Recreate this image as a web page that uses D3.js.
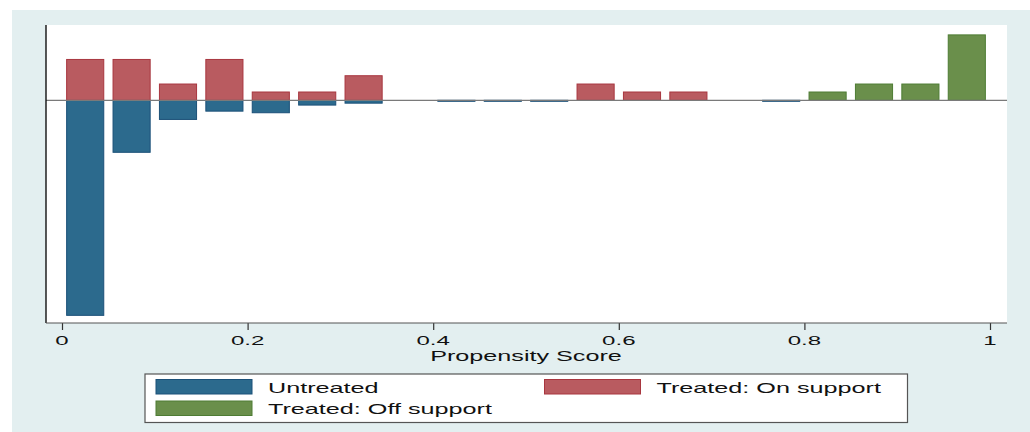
<!DOCTYPE html>
<html>
<head>
<meta charset="utf-8">
<script src="https://cdn.jsdelivr.net/npm/d3@7"></script>
<style>
  html, body { margin: 0; padding: 0; background: #ffffff; }
  svg { display: block; }
  text { font-family: "Liberation Sans", Arial, Helvetica, sans-serif; fill: #111; }
</style>
</head>
<body>
<svg id="chart" width="1030" height="432"></svg>
<script>
// Propensity score bins (bin midpoints, width 0.05)
const binMid = [0.025, 0.075, 0.125, 0.175, 0.225, 0.275, 0.325, 0.375, 0.425, 0.475,
                0.525, 0.575, 0.625, 0.675, 0.725, 0.775, 0.825, 0.875, 0.925, 0.975];

// Share of each group per bin (untreated drawn below zero)
const untreated  = [0.674, 0.163, 0.060, 0.034, 0.039, 0.015, 0.009, 0, 0.003, 0.003,
                    0.003, 0, 0, 0, 0, 0.003, 0, 0, 0, 0];
const treatedOn  = [0.128, 0.128, 0.051, 0.128, 0.026, 0.026, 0.077, 0, 0, 0,
                    0, 0.051, 0.026, 0.026, 0, 0, 0, 0, 0, 0];
const treatedOff = [0, 0, 0, 0, 0, 0, 0, 0, 0, 0,
                    0, 0, 0, 0, 0, 0, 0.026, 0.051, 0.051, 0.205];

const xTicks = [0, 0.2, 0.4, 0.6, 0.8, 1];
const xTickLabels = ["0", ".2", ".4", ".6", ".8", "1"].map(s => s === "0" || s === "1" ? s : "0" + s);
const seriesNames = ["Untreated", "Treated: On support", "Treated: Off support"];
const xTitle = "Propensity Score";

const colors = {
  untreated:  { fill: "#2c6a8d", stroke: "#1b5078" },
  on:         { fill: "#b95b60", stroke: "#a8363f" },
  off:        { fill: "#6a8f4b", stroke: "#4e7c34" }
};

const svg = d3.select("#chart");
const W = 1030, H = 432;
const plot = { left: 46, right: 1007, top: 25, bottom: 323 };

// Outer graph region
svg.append("rect").attr("x", 12).attr("y", 10).attr("width", W - 12).attr("height", H - 10)
  .attr("fill", "#e3eff0");
// Plot region
svg.append("rect").attr("x", plot.left).attr("y", plot.top)
  .attr("width", plot.right - plot.left).attr("height", plot.bottom - plot.top)
  .attr("fill", "#ffffff");

const x = d3.scaleLinear().domain([0, 1]).range([62, 990]);
const y = d3.scaleLinear().domain([-0.698, 0.236]).range([plot.bottom, plot.top]);
const barW = 0.04;

// Text that is horizontally stretched, as in the exported graph
function stretchedText(g, str, tx, ty, size, sx, anchor) {
  return g.append("text")
    .attr("transform", `translate(${tx},${ty}) scale(${sx},1)`)
    .attr("text-anchor", anchor || "start")
    .style("font-size", size + "px")
    .text(str);
}

function drawBars(values, sign, col) {
  svg.append("g").selectAll("rect")
    .data(binMid.map((m, i) => ({ m, v: values[i] })).filter(d => d.v > 0))
    .join("rect")
    .attr("x", d => x(d.m - barW / 2))
    .attr("width", d => x(d.m + barW / 2) - x(d.m - barW / 2))
    .attr("y", d => sign > 0 ? y(d.v) : y(0))
    .attr("height", d => Math.max(1, Math.abs(y(d.v) - y(0))))
    .attr("fill", col.fill)
    .attr("stroke", col.stroke)
    .attr("stroke-width", 1);
}

drawBars(untreated, -1, colors.untreated);
drawBars(treatedOn, 1, colors.on);
drawBars(treatedOff, 1, colors.off);

// Zero reference line
svg.append("line")
  .attr("x1", plot.left).attr("x2", plot.right)
  .attr("y1", y(0)).attr("y2", y(0))
  .attr("stroke", "#7a7a7a").attr("stroke-width", 1.2);

// Left axis line (no ticks)
svg.append("line")
  .attr("x1", plot.left).attr("x2", plot.left)
  .attr("y1", plot.top).attr("y2", plot.bottom)
  .attr("stroke", "#111").attr("stroke-width", 1.4);

// Bottom axis
const xAxis = d3.axisBottom(x).tickValues(xTicks).tickSize(7).tickFormat("");
const gx = svg.append("g").attr("transform", `translate(0,${plot.bottom})`).call(xAxis);
gx.select(".domain").remove();
gx.selectAll(".tick line").attr("stroke", "#333").attr("stroke-width", 1.2);
svg.append("line")
  .attr("x1", plot.left).attr("x2", plot.right)
  .attr("y1", plot.bottom).attr("y2", plot.bottom)
  .attr("stroke", "#555").attr("stroke-width", 1.2);

const gLabels = svg.append("g");
xTicks.forEach((t, i) => {
  stretchedText(gLabels, xTickLabels[i], x(t), 345, 13, 1.85, "middle");
});
stretchedText(gLabels, xTitle, 526, 361, 15, 1.68, "middle");

// Legend
const lg = svg.append("g");
lg.append("rect").attr("x", 145).attr("y", 374).attr("width", 762.5).attr("height", 48.5)
  .attr("fill", "#ffffff").attr("stroke", "#555").attr("stroke-width", 1.2);
const legendItems = [
  { name: seriesNames[0], col: colors.untreated, sx: 156, ty: 379.5, tx: 268 },
  { name: seriesNames[1], col: colors.on,        sx: 544.5, ty: 379.5, tx: 656.5 },
  { name: seriesNames[2], col: colors.off,       sx: 156, ty: 401, tx: 268 }
];
legendItems.forEach(it => {
  lg.append("rect").attr("x", it.sx).attr("y", it.ty).attr("width", 96).attr("height", 14.5)
    .attr("fill", it.col.fill).attr("stroke", it.col.stroke).attr("stroke-width", 1);
  stretchedText(lg, it.name, it.tx, it.ty + 13, 15, 1.68, "start");
});
</script>
</body>
</html>
